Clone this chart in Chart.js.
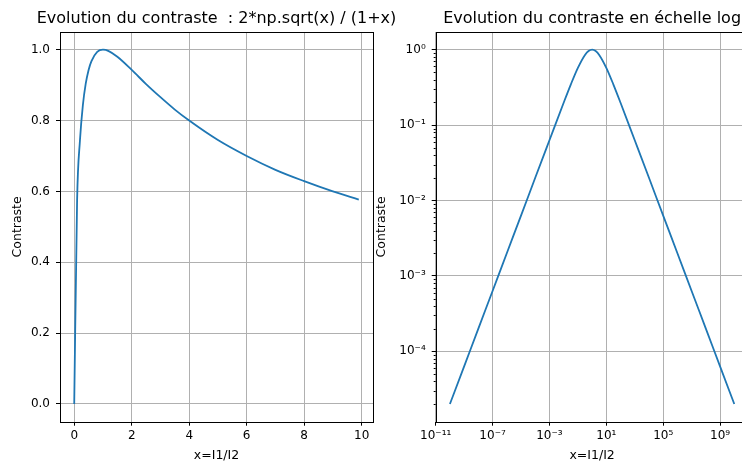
<!DOCTYPE html>
<html>
<head>
<meta charset="utf-8">
<script src="https://cdn.jsdelivr.net/npm/chart.js@4/dist/chart.umd.min.js"></script>
<style>
  html, body { margin: 0; padding: 0; background: #fff; overflow: hidden; }
  body { width: 742px; height: 469px; position: relative; }
  #lin { position: absolute; left: 0; top: 0; }
  #log { position: absolute; left: 374px; top: 0; }
</style>
</head>
<body>
<canvas id="lin" width="420" height="469"></canvas>
<canvas id="log" width="380" height="469"></canvas>
<script>
// left plot: contrast vs x (linear)
const linX = [0, 0.1, 0.2, 0.3, 0.4, 0.5, 0.6, 0.8, 1.0, 1.2, 1.5, 2.0, 2.5, 3.0, 3.5, 4.0, 5.0, 6.0, 7.0, 8.0, 9.0, 9.9];
const linY = [0, 0.575, 0.745, 0.843, 0.904, 0.943, 0.968, 0.994, 1.0, 0.996, 0.980, 0.943, 0.903, 0.866, 0.831, 0.800, 0.745, 0.700, 0.661, 0.629, 0.600, 0.577];
const linXTicks = [0, 2, 4, 6, 8, 10];
const linYTicks = [0, 0.2, 0.4, 0.6, 0.8, 1.0];

// right plot: same curve, log-log
const logX = [1e-10, 1e-9, 1e-8, 1e-7, 1e-6, 1e-5, 1e-4, 1e-3, 1e-2, 3.16e-2, 1e-1, 3.16e-1, 5.62e-1, 1,
              1.78, 3.16, 10, 31.6, 100, 1e3, 1e4, 1e5, 1e6, 1e7, 1e8, 1e9, 1e10];
const logY = [2e-5, 6.3e-5, 2e-4, 6.3e-4, 2e-3, 6.3e-3, 0.02, 0.063, 0.198, 0.345, 0.575, 0.854, 0.96, 1,
              0.96, 0.854, 0.575, 0.345, 0.198, 0.063, 0.02, 6.3e-3, 2e-3, 6.3e-4, 2e-4, 6.3e-5, 2e-5];
const logXTicks = [1e-11, 1e-7, 1e-3, 1e1, 1e5, 1e9];
const logYTicks = [1e-4, 1e-3, 1e-2, 1e-1, 1];

const FONT = 'DejaVu Sans';
const BLUE = '#1f77b4';

const sup = { '-': '\u207B', '0': '\u2070', '1': '\u00B9', '2': '\u00B2', '3': '\u00B3', '4': '\u2074',
              '5': '\u2075', '6': '\u2076', '7': '\u2077', '8': '\u2078', '9': '\u2079' };
function pow10Label(v) {
  const e = Math.round(Math.log10(v));
  return '10' + String(e).split('').map(c => sup[c]).join('');
}

// matplotlib-like box around the axes
const spines = {
  id: 'spines',
  afterDraw(chart) {
    const { ctx, chartArea: a } = chart;
    ctx.save();
    ctx.strokeStyle = '#000';
    ctx.lineWidth = 1;
    ctx.strokeRect(Math.round(a.left) + 0.5, Math.round(a.top) + 0.5,
                   Math.round(a.right - a.left), Math.round(a.bottom - a.top));
    ctx.restore();
  }
};

// axes title, centred over the plot area like matplotlib does
const axTitle = {
  id: 'axTitle',
  afterDraw(chart, args, opts) {
    const { ctx, chartArea: a } = chart;
    ctx.save();
    ctx.fillStyle = '#000';
    ctx.font = '16px "' + FONT + '"';
    ctx.textAlign = 'center';
    ctx.textBaseline = 'middle';
    ctx.fillText(opts.text, (a.left + a.right) / 2, 18.5);
    ctx.restore();
  }
};

// small minor tick marks on the log y axis
const minorTicks = {
  id: 'minorTicks',
  afterDraw(chart) {
    if (chart.canvas.id !== 'log') return;
    const { ctx, chartArea: a } = chart;
    const y = chart.scales.y;
    ctx.save();
    ctx.strokeStyle = '#000';
    ctx.lineWidth = 1;
    for (let k = -6; k <= 0; k++) {
      for (let m = 2; m <= 9; m++) {
        const v = m * Math.pow(10, k);
        if (v < y.min || v > y.max) continue;
        const py = Math.round(y.getPixelForValue(v)) + 0.5;
        ctx.beginPath();
        ctx.moveTo(a.left - 2, py);
        ctx.lineTo(a.left, py);
        ctx.stroke();
      }
    }
    ctx.restore();
  }
};

function axis(opts) {
  return Object.assign({
    grid: { color: '#b0b0b0', lineWidth: 1, tickColor: '#000', tickLength: 4, tickWidth: 1 },
    border: { display: false },
    ticks: { color: '#000', font: { family: FONT, size: 12 }, autoSkip: false, maxRotation: 0 }
  }, opts);
}

new Chart(document.getElementById('lin'), {
  type: 'line',
  data: {
    datasets: [{
      data: linX.map((x, i) => ({ x: x, y: linY[i] })),
      borderColor: BLUE,
      borderWidth: 1.8,
      pointRadius: 0,
      cubicInterpolationMode: 'monotone',
      fill: false
    }]
  },
  options: {
    responsive: false,
    animation: false,
    layout: { padding: { left: 10, right: 47, top: 32, bottom: 0 } },
    plugins: {
      legend: { display: false },
      tooltip: { enabled: false },
      title: { display: false },
      axTitle: { text: 'Evolution du contraste  : 2*np.sqrt(x) / (1+x)' }
    },
    scales: {
      x: axis({
        type: 'linear', min: -0.495, max: 10.395,
        afterBuildTicks: s => { s.ticks = linXTicks.map(v => ({ value: v })); },
        afterFit: s => { s.height = 47.3; },
        title: { display: true, text: 'x=I1/I2', color: '#000', font: { family: FONT, size: 12.5 }, padding: { top: 0, bottom: 5.8 } },
        ticks: { color: '#000', font: { family: FONT, size: 12 }, autoSkip: false, maxRotation: 0, padding: 3,
                 callback: v => String(v) }
      }),
      y: axis({
        type: 'linear', min: -0.05, max: 1.05,
        afterBuildTicks: s => { s.ticks = linYTicks.map(v => ({ value: v })); },
        afterFit: s => { s.width = 50; },
        title: { display: true, text: 'Contraste', color: '#000', font: { family: FONT, size: 12.5 }, padding: { top: 0, bottom: 0 } },
        ticks: { color: '#000', font: { family: FONT, size: 12 }, autoSkip: false, padding: 6,
                 callback: v => v.toFixed(1) }
      })
    }
  },
  plugins: [spines, axTitle]
});

new Chart(document.getElementById('log'), {
  type: 'line',
  data: {
    datasets: [{
      data: logX.map((x, i) => ({ x: x, y: logY[i] })),
      borderColor: BLUE,
      borderWidth: 1.8,
      pointRadius: 0,
      cubicInterpolationMode: 'monotone',
      fill: false
    }]
  },
  options: {
    responsive: false,
    animation: false,
    layout: { padding: { left: 0, right: 5.5, top: 32, bottom: 0 } },
    plugins: {
      legend: { display: false },
      tooltip: { enabled: false },
      title: { display: false },
      axTitle: { text: 'Evolution du contraste en échelle log' }
    },
    scales: {
      x: axis({
        type: 'logarithmic', min: 1e-11, max: 1e11,
        afterBuildTicks: s => { s.ticks = logXTicks.map(v => ({ value: v })); },
        afterFit: s => { s.height = 47.3; },
        title: { display: true, text: 'x=I1/I2', color: '#000', font: { family: FONT, size: 12.5 }, padding: { top: 0, bottom: 5.8 } },
        ticks: { color: '#000', font: { family: FONT, size: 12 }, autoSkip: false, maxRotation: 0, padding: 3,
                 callback: v => pow10Label(v) }
      }),
      y: axis({
        type: 'logarithmic', min: 1.164e-5, max: 1.718,
        afterBuildTicks: s => { s.ticks = logYTicks.map(v => ({ value: v })); },
        afterFit: s => { s.width = 61.7; },
        title: { display: true, text: 'Contraste', color: '#000', font: { family: FONT, size: 12.5 }, padding: { top: 0, bottom: 0 } },
        ticks: { color: '#000', font: { family: FONT, size: 12 }, autoSkip: false, padding: 6,
                 callback: v => pow10Label(v) }
      })
    }
  },
  plugins: [spines, axTitle, minorTicks]
});
</script>
</body>
</html>
